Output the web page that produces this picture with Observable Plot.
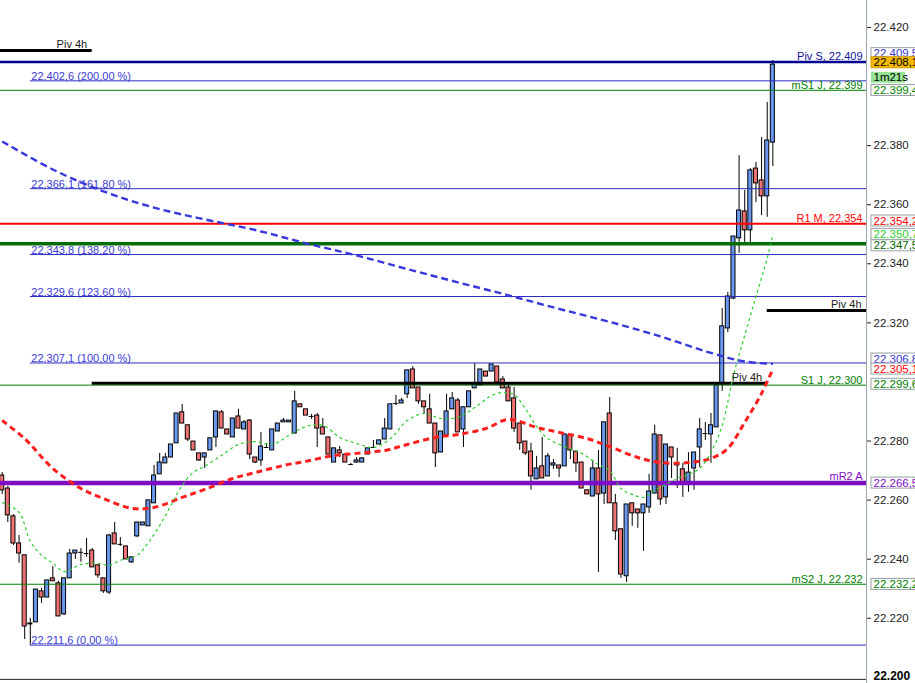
<!DOCTYPE html>
<html><head><meta charset="utf-8">
<script src="https://cdn.jsdelivr.net/npm/d3@7"></script>
<script src="https://cdn.jsdelivr.net/npm/@observablehq/plot@0.6"></script>
<style>
body{margin:0;background:#fff;}
#chart svg{display:block;}
</style>
</head><body><div id="chart"></div>
<script>
// ---- Candles (one per bar, left to right) ----
const open = [22.2690,22.2646,22.2552,22.2460,22.2420,22.2186,22.2193,22.2298,22.2277,22.2342,
22.2325,22.2220,22.2342,22.2426,22.2430,22.2426,22.2436,22.2386,22.2342,22.2294,
22.2494,22.2457,22.2450,22.2396,22.2484,22.2521,22.2518,22.2596,22.2694,22.2731,
22.2751,22.2799,22.2904,22.2860,22.2805,22.2765,22.2751,22.2775,22.2819,22.2904,
22.2846,22.2819,22.2890,22.2846,22.2876,22.2751,22.2741,22.2785,22.2775,22.2839,
22.2870,22.2870,22.2832,22.2931,22.2914,22.2890,22.2893,22.2853,22.2819,22.2734,
22.2775,22.2761,22.2727,22.2734,22.2734,22.2761,22.2785,22.2795,22.2812,22.2846,
22.2934,22.2934,22.2965,22.3049,22.2988,22.2941,22.2914,22.2866,22.2768,22.2826,
22.2914,22.2944,22.2846,22.2921,22.2985,22.2995,22.3042,22.3042,22.3059,22.3015,
22.2988,22.2951,22.2866,22.2805,22.2771,22.2677,22.2721,22.2687,22.2724,22.2724,
22.2721,22.2826,22.2771,22.2734,22.2640,22.2619,22.2714,22.2629,22.2900,22.2596,
22.2508,22.2349,22.2596,22.2575,22.2562,22.2582,22.2629,22.2826,22.2616,22.2785,
22.2731,22.2711,22.2667,22.2714,22.2785,22.2832,22.2829,22.2853,22.3002,22.3188,
22.3289,22.3493,22.3584,22.3520,22.3729,22.3689,22.3635,22.3817];
const high = [22.2700,22.2653,22.2558,22.2487,22.2420,22.2206,22.2304,22.2308,22.2335,22.2382,
22.2332,22.2342,22.2440,22.2436,22.2443,22.2477,22.2443,22.2386,22.2342,22.2491,
22.2531,22.2480,22.2450,22.2413,22.2531,22.2531,22.2606,22.2724,22.2765,22.2765,
22.2795,22.2900,22.2931,22.2860,22.2805,22.2765,22.2765,22.2816,22.2907,22.2910,
22.2846,22.2883,22.2914,22.2876,22.2880,22.2751,22.2836,22.2799,22.2846,22.2866,
22.2883,22.2876,22.2975,22.2931,22.2914,22.2897,22.2900,22.2883,22.2819,22.2782,
22.2788,22.2761,22.2731,22.2751,22.2751,22.2782,22.2809,22.2809,22.2883,22.2931,
22.2961,22.2951,22.3046,22.3059,22.2988,22.2941,22.2965,22.2866,22.2839,22.2965,
22.2971,22.2951,22.2921,22.2975,22.3069,22.3049,22.3042,22.3066,22.3059,22.3025,
22.3005,22.2988,22.2866,22.2805,22.2799,22.2755,22.2819,22.2765,22.2744,22.2724,
22.2829,22.2826,22.2771,22.2734,22.2640,22.2741,22.2775,22.2870,22.2954,22.2626,
22.2508,22.2592,22.2596,22.2575,22.2592,22.2694,22.2860,22.2826,22.2795,22.2785,
22.2782,22.2731,22.2768,22.2768,22.2883,22.2870,22.2900,22.2995,22.3256,22.3310,
22.3499,22.3773,22.3655,22.3729,22.3750,22.3834,22.3953,22.4095];
const low = [22.2626,22.2531,22.2453,22.2393,22.2135,22.2116,22.2193,22.2257,22.2277,22.2332,
22.2213,22.2216,22.2342,22.2406,22.2396,22.2413,22.2379,22.2342,22.2291,22.2287,
22.2457,22.2450,22.2406,22.2393,22.2480,22.2521,22.2518,22.2596,22.2694,22.2731,
22.2751,22.2799,22.2866,22.2805,22.2775,22.2738,22.2714,22.2775,22.2785,22.2849,
22.2829,22.2819,22.2849,22.2846,22.2744,22.2731,22.2721,22.2782,22.2775,22.2839,
22.2870,22.2870,22.2832,22.2921,22.2893,22.2880,22.2785,22.2829,22.2761,22.2734,
22.2751,22.2734,22.2724,22.2731,22.2734,22.2761,22.2782,22.2795,22.2812,22.2846,
22.2927,22.2934,22.2951,22.2985,22.2931,22.2900,22.2866,22.2717,22.2768,22.2822,
22.2914,22.2836,22.2785,22.2921,22.2985,22.2995,22.3025,22.3042,22.3005,22.2985,
22.2941,22.2836,22.2775,22.2758,22.2640,22.2677,22.2680,22.2687,22.2711,22.2683,
22.2721,22.2744,22.2700,22.2646,22.2626,22.2619,22.2362,22.2592,22.2596,22.2470,
22.2342,22.2328,22.2518,22.2511,22.2433,22.2562,22.2629,22.2589,22.2592,22.2680,
22.2646,22.2616,22.2633,22.2640,22.2717,22.2809,22.2731,22.2853,22.2975,22.3174,
22.3286,22.3442,22.3476,22.3476,22.3614,22.3570,22.3564,22.3736];
const close = [22.2640,22.2555,22.2460,22.2426,22.2179,22.2189,22.2304,22.2277,22.2335,22.2332,
22.2213,22.2342,22.2426,22.2436,22.2430,22.2426,22.2379,22.2352,22.2298,22.2487,
22.2457,22.2457,22.2406,22.2413,22.2531,22.2531,22.2606,22.2690,22.2734,22.2751,
22.2795,22.2900,22.2866,22.2812,22.2775,22.2741,22.2765,22.2816,22.2907,22.2849,
22.2829,22.2883,22.2849,22.2870,22.2761,22.2734,22.2788,22.2785,22.2846,22.2866,
22.2876,22.2876,22.2941,22.2921,22.2893,22.2890,22.2849,22.2829,22.2761,22.2782,
22.2765,22.2734,22.2727,22.2741,22.2748,22.2782,22.2785,22.2809,22.2849,22.2931,
22.2934,22.2944,22.3046,22.2985,22.2941,22.2921,22.2866,22.2765,22.2839,22.2907,
22.2951,22.2836,22.2921,22.2975,22.3002,22.3049,22.3025,22.3066,22.3005,22.2985,
22.2941,22.2849,22.2799,22.2765,22.2687,22.2714,22.2680,22.2755,22.2731,22.2714,
22.2829,22.2775,22.2731,22.2646,22.2626,22.2714,22.2626,22.2870,22.2596,22.2501,
22.2355,22.2592,22.2562,22.2562,22.2592,22.2636,22.2829,22.2609,22.2795,22.2751,
22.2724,22.2667,22.2700,22.2768,22.2846,22.2832,22.2860,22.2995,22.3195,22.3296,
22.3499,22.3587,22.3520,22.3723,22.3679,22.3635,22.3824,22.4081];

// ---- Moving averages (bar index -> value) ----
const blueIdx = [0,9,18,27,36,45,54,63,72,81,90,99,108,117,126,132,137];
const blueVal = [22.3821,22.3726,22.3652,22.3597,22.3557,22.3521,22.3476,22.3435,22.3389,22.3344,22.3300,22.3254,22.3210,22.3161,22.3105,22.3076,22.3068];
const redIdx = [0,4,9,14,18,23,27,32,36,41,45,50,54,59,63,68,72,77,81,86,90,95,99,104,108,113,117,122,126,129,132,135,137];
const redVal = [22.2876,22.2815,22.2714,22.2646,22.2612,22.2579,22.2582,22.2616,22.2643,22.2680,22.2700,22.2724,22.2738,22.2758,22.2765,22.2775,22.2795,22.2819,22.2829,22.2849,22.2880,22.2853,22.2836,22.2815,22.2788,22.2751,22.2734,22.2734,22.2748,22.2782,22.2870,22.2968,22.3051];
const greenIdx = [0,3,5,7,9,11,14,17,19,21,24,26,28,30,32,34,36,39,42,45,48,51,54,57,60,63,66,69,72,75,78,81,84,87,89,91,93,95,97,100,103,106,108,110,112,114,116,118,120,122,124,126,128,130,132,134,136,137];
const greenVal = [22.2599,22.2565,22.2467,22.2420,22.2393,22.2365,22.2389,22.2393,22.2386,22.2403,22.2420,22.2464,22.2521,22.2589,22.2657,22.2701,22.2721,22.2758,22.2795,22.2805,22.2795,22.2826,22.2856,22.2860,22.2819,22.2799,22.2785,22.2815,22.2876,22.2900,22.2883,22.2887,22.2920,22.2961,22.2971,22.2964,22.2917,22.2856,22.2815,22.2788,22.2765,22.2727,22.2707,22.2646,22.2626,22.2616,22.2640,22.2660,22.2680,22.2694,22.2714,22.2768,22.2860,22.3029,22.3164,22.3296,22.3425,22.3507];

// ---- Fibonacci extension (anchored on bar 5 low) ----
const fibAnchor = 5;
const fibVal = [22.4026,22.3661,22.3438,22.3296,22.3071,22.2116];
const fibPct = ["200,00","161,80","138,20","123,60","100,00","0,00"];

// ---- Horizontal levels ----
const levelName = ["Piv S","mS1 J","R1 M","M","S1 J","mR2 A","mS2 J"];
const levelVal  = [22.409,22.3994,22.3542,22.3475,22.2996,22.2665,22.2322];
const levelText = ["Piv S, 22.409","mS1 J, 22.399","R1 M, 22.354","","S1 J, 22.300","mR2 A","mS2 J, 22.232"];

// ---- 4h pivot steps ----
const pivFrom = [-1,16,136];
const pivTo   = [16,136,160];
const pivVal  = [22.4129,22.3002,22.3249];

// ---- Price axis ----
const tickVals = [22.220,22.240,22.260,22.280,22.320,22.340,22.360,22.380,22.420];
const tickBold = [22.200];

// ---- Value boxes on the price axis ----
const boxText = ["22.409,5","22.408,1","1m21s","22.399,4","22.354,2","22.350,7","22.347,5","22.306,8","22.305,1","22.299,6","22.266,5","22.232,2"];
const boxVal  = [22.4095,22.4081,22.4081,22.3994,22.3542,22.3507,22.3475,22.3068,22.3051,22.2996,22.2665,22.2322];

// ================= styles =================
const levelStyle = {
  "Piv S": {stroke:"#000090", w:2.5},
  "mS1 J": {stroke:"#008000", w:1},
  "R1 M":  {stroke:"#ff0000", w:2},
  "M":     {stroke:"#006f00", w:3.5},
  "S1 J":  {stroke:"#008000", w:1},
  "mR2 A": {stroke:"#7e0cc4", w:4.5},
  "mS2 J": {stroke:"#008000", w:1}
};
const boxStyle = [
  {c:"#3535d0", bg:"#ffffff", bd:"#97a2b4", dy:-7, w:50},
  {c:"#000000", bg:"#f7b900", bd:"#d09a00", dy:-2, w:50},
  {c:"#000000", bg:"#96e596", bd:"none",    dy:13, w:34},
  {c:"#008000", bg:"#ffffff", bd:"#9aa0a6", dy:0, w:50},
  {c:"#ff0000", bg:"#ffffff", bd:"#9aa0a6", dy:-3, w:50},
  {c:"#2ecc2e", bg:"#ffffff", bd:"#9aa0a6", dy:0, w:50},
  {c:"#006400", bg:"#ffffff", bd:"#9aa0a6", dy:2, w:50},
  {c:"#3535d0", bg:"#ffffff", bd:"#9aa0a6", dy:-5, w:50},
  {c:"#ff0000", bg:"#ffffff", bd:"#9aa0a6", dy:0, w:50},
  {c:"#008000", bg:"#ffffff", bd:"#9aa0a6", dy:-1, w:50},
  {c:"#7e0cc4", bg:"#ffffff", bd:"#9aa0a6", dy:0, w:50},
  {c:"#008000", bg:"#ffffff", bd:"#9aa0a6", dy:0, w:50}
];
const BLUE = "#6a98ee", RED = "#f07272";
const xDom = [-0.3, 153.65];
const yDom = [22.1986, 22.4298];

const candles = open.map((o, i) => ({i, o, h: high[i], l: low[i], c: close[i]}));
const series = (idx, val) => idx.map((i, k) => ({i, v: val[k]}));
const fibs = fibVal.map((v, k) => {
  const s = v.toFixed(4);
  return {v, label: s.slice(0, 6) + "," + s.slice(6) + " (" + fibPct[k] + " %)"};
});
const levels = levelVal.map((v, k) => ({v, name: levelName[k], label: levelText[k]}));
const pivs = pivVal.map((v, k) => ({v, a: pivFrom[k], b: pivTo[k], e: Math.min(pivTo[k], xDom[1])}));
const boxes = boxVal.map((v, k) => ({v, label: boxText[k], k}));

const font = "Liberation Sans, Arial, sans-serif";
const isDoji = d => Math.abs(d.o - d.c) < 0.00015;
const AX = 11.5;

const marks = [
  // candles
  Plot.ruleX(candles, {x: "i", y1: "l", y2: "h", stroke: "#000", strokeWidth: 1}),
  Plot.rect(candles.filter(d => !isDoji(d)), {
    x1: d => d.i - 0.36, x2: d => d.i + 0.36, y1: "o", y2: "c",
    fill: d => d.c > d.o ? BLUE : RED, stroke: "#000", strokeWidth: 1
  }),
  Plot.ruleY(candles.filter(isDoji), {y: "c", x1: d => d.i - 0.42, x2: d => d.i + 0.42, stroke: "#000", strokeWidth: 1}),
  // fibonacci lines
  Plot.ruleY(fibs, {y: "v", x1: fibAnchor, x2: xDom[1], stroke: "#2c2cc4", strokeWidth: 1}),
  // horizontal levels
  ...levels.map(l => Plot.ruleY([l], {y: "v", stroke: levelStyle[l.name].stroke, strokeWidth: levelStyle[l.name].w})),
  // 4h pivot steps
  Plot.ruleY(pivs, {y: "v", x1: "a", x2: "b", stroke: "#000", strokeWidth: 3, clip: true}),
  // moving averages
  Plot.line(series(blueIdx, blueVal), {x: "i", y: "v", stroke: "#3838dc", strokeWidth: 2.4, strokeDasharray: "7,4", strokeLinecap: "butt", curve: "catmull-rom"}),
  Plot.line(series(redIdx, redVal), {x: "i", y: "v", stroke: "#ff1e1e", strokeWidth: 3, strokeDasharray: "6,4", strokeLinecap: "butt", curve: "catmull-rom"}),
  Plot.line(series(greenIdx, greenVal), {x: "i", y: "v", stroke: "#2fcc2f", strokeWidth: 1.2, strokeDasharray: "3,3", strokeLinecap: "butt", curve: "catmull-rom"}),
  // texts
  Plot.text(fibs, {x: fibAnchor, y: "v", text: "label", textAnchor: "start", lineAnchor: "bottom", dx: 1, dy: -1, fill: "#3a3ad6", fontSize: 11}),
  ...levels.filter(l => l.label).map(l => Plot.text([l], {x: xDom[1], y: "v", text: "label", textAnchor: "end", lineAnchor: "bottom", dx: -4, dy: -Math.max(1, levelStyle[l.name].w / 2 + 0.5), fill: levelStyle[l.name].stroke === "#000090" ? "#10109a" : levelStyle[l.name].stroke, fontSize: 11})),
  Plot.text(pivs, {x: "e", y: "v", text: () => "Piv 4h", textAnchor: "end", lineAnchor: "bottom", dx: -5, dy: -2, fill: "#1a1a1a", fontSize: 11}),
  // price axis
  Plot.ruleX([xDom[1]], {stroke: "#9aa5b0", strokeWidth: 1}),
  Plot.axisY({anchor: "right", ticks: tickVals, tickSize: 4, tickPadding: 3, tickFormat: d => d.toFixed(3), fontSize: AX, dy: -2, color: "#222"}),
  Plot.tickY(tickBold, {y: d => d, frameAnchor: "right", stroke: "#222"}),
  Plot.text(tickBold, {y: d => d, text: d => d.toFixed(3), frameAnchor: "right", textAnchor: "start", dx: 7, dy: -3, fontSize: 12, fontWeight: "bold", fill: "#000"}),
  // value boxes
  ...boxes.map(b => Plot.text([b], {y: "v", text: "label", frameAnchor: "right", textAnchor: "start", dx: 7, dy: boxStyle[b.k].dy, fontSize: AX, fill: boxStyle[b.k].c}))
];

const chart = Plot.plot({
  width: 915, height: 683,
  marginLeft: 0, marginRight: 49, marginTop: 0, marginBottom: 0,
  x: {domain: xDom, axis: null},
  y: {domain: yDom, axis: null},
  color: {type: "identity"},
  style: {fontFamily: font, background: "#fff", overflow: "hidden"},
  marks
});
document.getElementById("chart").append(chart);

// draw box backgrounds behind the value labels (from the rendered text extents)
chart.querySelectorAll("text").forEach(t => {
  const k = boxText.indexOf(t.textContent);
  if (k < 0) return;
  const st = boxStyle[k];
  const b = t.getBBox();
  const r = document.createElementNS("http://www.w3.org/2000/svg", "rect");
  if (t.getAttribute("transform")) r.setAttribute("transform", t.getAttribute("transform"));
  const cy = b.y + b.height / 2;
  r.setAttribute("x", b.x - 2.5);
  r.setAttribute("y", cy - 5.5);
  r.setAttribute("width", st.w);
  r.setAttribute("height", 11);
  r.setAttribute("fill", st.bg);
  r.setAttribute("stroke", st.bd);
  t.parentNode.insertBefore(r, t);
});
</script>
</body></html>
